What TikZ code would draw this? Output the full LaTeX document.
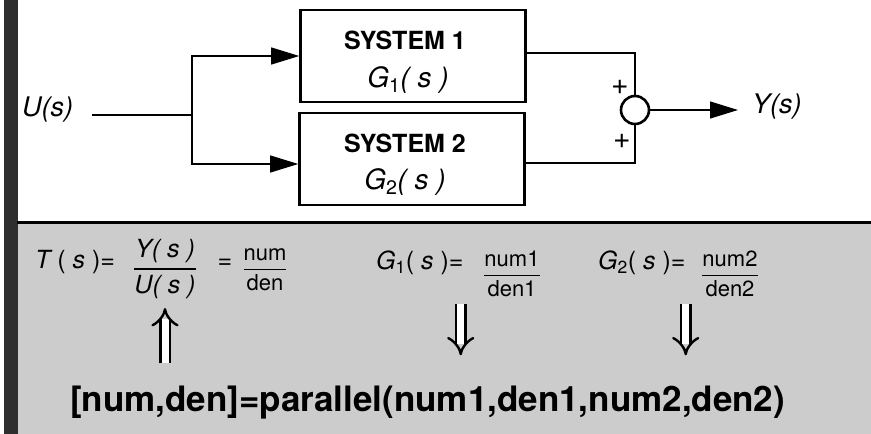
\documentclass[tikz,border=0pt]{standalone}
\usepackage{amsmath}
\usepackage{fontspec}
\setmainfont{TeX Gyre Heros}
\usetikzlibrary{arrows.meta, positioning}

\begin{document}
\begin{tikzpicture}[
      x=1pt, y=-1pt,
      block/.style={draw, line width=2.6pt, minimum width=225pt, minimum height=92pt, inner sep=0pt},
      boxtitle/.style={font=\fontsize{25}{28}\selectfont\bfseries, inner sep=0pt},
      boxfn/.style={font=\fontsize{28}{30}\selectfont\itshape, inner sep=0pt},
      sumnode/.style={circle, draw, line width=2.6pt, minimum size=28pt, inner sep=0pt},
      sig/.style={line width=1.2pt},
      feed/.style={line width=1.2pt, -{Triangle[length=28pt, width=17pt]}},
      dblarrow/.style={double, double distance=7pt, line width=2.4pt, -{Implies[length=9pt, width=26pt]}},
      sigtext/.style={font=\fontsize{27}{30}\selectfont\itshape, inner sep=0pt},
      plus/.style={font=\fontsize{30}{32}\selectfont, inner sep=0pt},
      eqtext/.style={font=\fontsize{25}{28}\selectfont, inner sep=2pt},
      fractext/.style={font=\fontsize{22}{24}\selectfont, inner sep=2pt}
    ]
      \useasboundingbox (0,0) rectangle (871,434);
      % panel with the matlab command
      \fill[black!20] (17,222) rectangle (871,434);
      \fill[black!82] (4,0) rectangle (18,434);
      \draw[line width=3pt] (17,222) -- (871,222);

      % block diagram
      \node[sigtext, anchor=west] (U) at (22,110) {U(s)};
      \coordinate (in) at (92,115);
      \coordinate (br) at (192,115);
      \node[block] (sys1) at (413,56) {};
      \node[boxtitle] (t1) at (405,40) {SYSTEM 1};
      \node[boxfn] (f1) at (408,80) {G\textsubscript{\upshape 1}( s )};
      \node[block] (sys2) at (412,159) {};
      \node[boxtitle] (t2) at (405,143) {SYSTEM 2};
      \node[boxfn] (f2) at (405,182) {G\textsubscript{\upshape 2}( s )};
      \node[sumnode] (sum) at (635,110) {};
      \node[plus] (p1) at (620,87) {+};
      \node[plus] (p2) at (622,141) {+};
      \coordinate (out) at (738,110);
      \node[sigtext, anchor=west] (Y) at (752,107) {Y(s)};

      \draw[sig] (in) -- (br);
      \draw[feed] (br) |- (sys1.west);
      \draw[feed] (br) |- ([yshift=-5pt]sys2.west);
      \draw[sig] ([yshift=3pt]sys1.east) -| (sum.north);
      \draw[sig] ([yshift=-4pt]sys2.east) -| (sum.south);
      \draw[feed] (sum.east) -- (out);

      % transfer functions
      \node[eqtext, anchor=west] (ts) at (33,262) {{\itshape T} ( {\itshape s} )=};
      \node[eqtext] (tf) at (165,269) {$\genfrac{}{}{1.8pt}{0}{\hbox{\itshape Y( s )}}{\hbox{\itshape U( s )}}$};
      \node[eqtext] (eq) at (225,264) {=};
      \node[fractext] (tn) at (265,270) {$\genfrac{}{}{1.5pt}{0}{\hbox{num}}{\hbox{den}}$};
      \node[eqtext, anchor=west] (g1) at (374,263) {{\itshape G}\textsubscript{1}( {\itshape s} )=};
      \node[fractext] (g1f) at (512,274) {$\genfrac{}{}{1.5pt}{0}{\hbox{num1}}{\hbox{den1}}$};
      \node[eqtext, anchor=west] (g2) at (596,263) {{\itshape G}\textsubscript{2}( {\itshape s} )=};
      \node[fractext] (g2f) at (730,274) {$\genfrac{}{}{1.5pt}{0}{\hbox{num2}}{\hbox{den2}}$};
      \node[font=\fontsize{35}{40}\selectfont\bfseries, anchor=base west, inner sep=2pt] (cmd) at (68,411)
        {[num,den]=parallel(num1,den1,num2,den2)};

      \draw[dblarrow, shorten <=20pt, shorten >=7pt] (cmd.north -| tf.south) -- (tf.south);
      \draw[dblarrow, shorten <=27pt, shorten >=28pt] ([xshift=-5pt]g1.south east) -- ([xshift=-5pt]g1.south east |- cmd.north);
      \draw[dblarrow, shorten <=27pt, shorten >=28pt] ([xshift=-2pt]g2.south east) -- ([xshift=-2pt]g2.south east |- cmd.north);
    \end{tikzpicture}
\end{document}
